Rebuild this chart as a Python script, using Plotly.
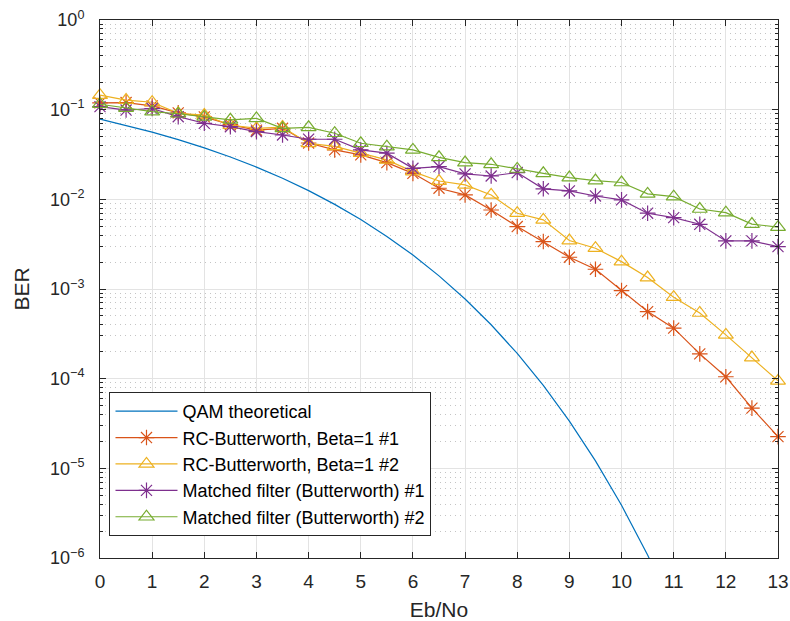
import plotly.graph_objects as go

ebno = [0, 0.5, 1, 1.5, 2, 2.5, 3, 3.5, 4, 4.5, 5, 5.5, 6, 6.5, 7, 7.5, 8, 8.5, 9,
        9.5, 10, 10.5, 11, 11.5, 12, 12.5, 13]

qam_theory = [7.865e-2, 6.71e-2, 5.628e-2, 4.64e-2, 3.751e-2, 2.965e-2, 2.288e-2,
              1.718e-2, 1.250e-2, 8.79e-3, 5.95e-3, 3.86e-3, 2.39e-3, 1.40e-3,
              7.73e-4, 3.99e-4, 1.91e-4, 8.4e-5, 3.36e-5, 1.21e-5, 3.87e-6,
              1.08e-6, 2.61e-7, 5.3e-8, 9.0e-9, 1.3e-9, 1.6e-10]

rc_bw_1 = [0.119, 0.12, 0.11, 0.092, 0.083, 0.068, 0.059, 0.062, 0.0425, 0.0356,
           0.0313, 0.0257, 0.0195, 0.0133, 0.0112, 0.0076, 0.00497, 0.00338,
           0.00226, 0.00166, 0.00096, 0.00056, 0.000366, 0.000189, 0.000105,
           4.69e-5, 2.26e-5]

rc_bw_2 = [0.145, 0.128, 0.121, 0.091, 0.087, 0.067, 0.062, 0.064, 0.042, 0.039,
           0.0327, 0.0275, 0.0204, 0.016, 0.0145, 0.0112, 0.0070, 0.0059,
           0.00347, 0.00285, 0.00202, 0.00134, 0.00081, 0.00054, 0.000308,
           0.000172, 9.45e-5]

mf_bw_1 = [0.108, 0.099, 0.103, 0.0835, 0.0705, 0.0646, 0.0569, 0.0522, 0.0468,
           0.0468, 0.0356, 0.0327, 0.0222, 0.0232, 0.0192, 0.0182, 0.0199, 0.0131,
           0.0124, 0.0109, 0.00985, 0.0070, 0.00625, 0.00527, 0.00344, 0.00344,
           0.00297]

mf_bw_2 = [0.115, 0.104, 0.095, 0.09, 0.083, 0.077, 0.080, 0.062, 0.0636, 0.0546,
           0.0422, 0.0387, 0.0356, 0.0294, 0.0257, 0.0246, 0.0218, 0.0195, 0.0175,
           0.0162, 0.0154, 0.0115, 0.0107, 0.0078, 0.0071, 0.0053, 0.00489]

names = ["QAM theoretical",
         "RC-Butterworth, Beta=1 #1",
         "RC-Butterworth, Beta=1 #2",
         "Matched filter (Butterworth) #1",
         "Matched filter (Butterworth) #2"]

x_ticks = list(range(0, 14))
y_exps = [0, -1, -2, -3, -4, -5, -6]

FONT = "Liberation Sans, Arial, Helvetica, sans-serif"
TXT = "#262626"

fig = go.Figure()
fig.add_trace(go.Scatter(x=ebno, y=qam_theory, mode="lines", name=names[0],
                         line=dict(color="#0072BD", width=1.2)))
series = [
    (rc_bw_1, names[1], "#D95319", "asterisk-open"),
    (rc_bw_2, names[2], "#EDB120", "triangle-up-open"),
    (mf_bw_1, names[3], "#7E2F8E", "asterisk-open"),
    (mf_bw_2, names[4], "#77AC30", "triangle-up-open"),
]
for ys, nm, col, sym in series:
    fig.add_trace(go.Scatter(
        x=ebno, y=ys, mode="lines+markers", name=nm, cliponaxis=False,
        line=dict(color=col, width=1.2),
        marker=dict(symbol=sym, size=13, color=col, line=dict(color=col, width=1.2)),
    ))

minor_vals = [k * 10.0 ** e for e in range(-6, 0) for k in range(2, 10)]

fig.update_layout(
    width=790, height=621,
    margin=dict(l=100, r=12, t=20, b=63),
    paper_bgcolor="white", plot_bgcolor="white",
    font=dict(family=FONT, color=TXT, size=19),
    showlegend=True,
    legend=dict(
        x=0.014, y=0.041, xanchor="left", yanchor="bottom",
        bgcolor="white", bordercolor=TXT, borderwidth=1,
        font=dict(family=FONT, size=18, color="black"),
        itemwidth=62, tracegroupgap=0,
    ),
)

fig.update_xaxes(
    range=[0, 13], tickmode="array", tickvals=x_ticks,
    ticktext=[str(v) for v in x_ticks], automargin=False,
    ticklabeloverflow="allow",
    ticks="inside", ticklen=6, tickcolor=TXT, tickwidth=1,
    showline=True, linecolor=TXT, linewidth=1, mirror="allticks",
    showgrid=True, gridcolor="#e3e3e3", gridwidth=1, zeroline=False,
    ticklabelstandoff=6,
    tickfont=dict(size=19, color=TXT, family=FONT),
    title=dict(text="Eb/No", font=dict(size=21, color=TXT, family=FONT), standoff=16),
)

fig.update_yaxes(
    type="log", range=[-6, 0], tickmode="array", automargin=False,
    ticklabeloverflow="allow",
    tickvals=[10.0 ** e for e in y_exps],
    ticktext=["10<sup>%s</sup>" % (str(e).replace("-", "\u2212")) for e in y_exps],
    ticks="inside", ticklen=6, tickcolor=TXT, tickwidth=1,
    showline=True, linecolor=TXT, linewidth=1, mirror="allticks",
    showgrid=True, gridcolor="#e3e3e3", gridwidth=1, zeroline=False,
    ticklabelstandoff=11,
    minor=dict(tickmode="array", tickvals=minor_vals, ticks="inside", ticklen=3,
               tickcolor=TXT, showgrid=True, gridcolor="#c4c4c4",
               griddash="1px,4px", gridwidth=1),
    tickfont=dict(size=18, color=TXT, family=FONT),
    title=dict(text="BER", font=dict(size=21, color=TXT, family=FONT), standoff=14),
)

fig.write_html(
    "out.html",
    config={"displayModeBar": False},
    post_script="document.body.style.margin='0px';document.body.style.overflow='hidden';",
)
